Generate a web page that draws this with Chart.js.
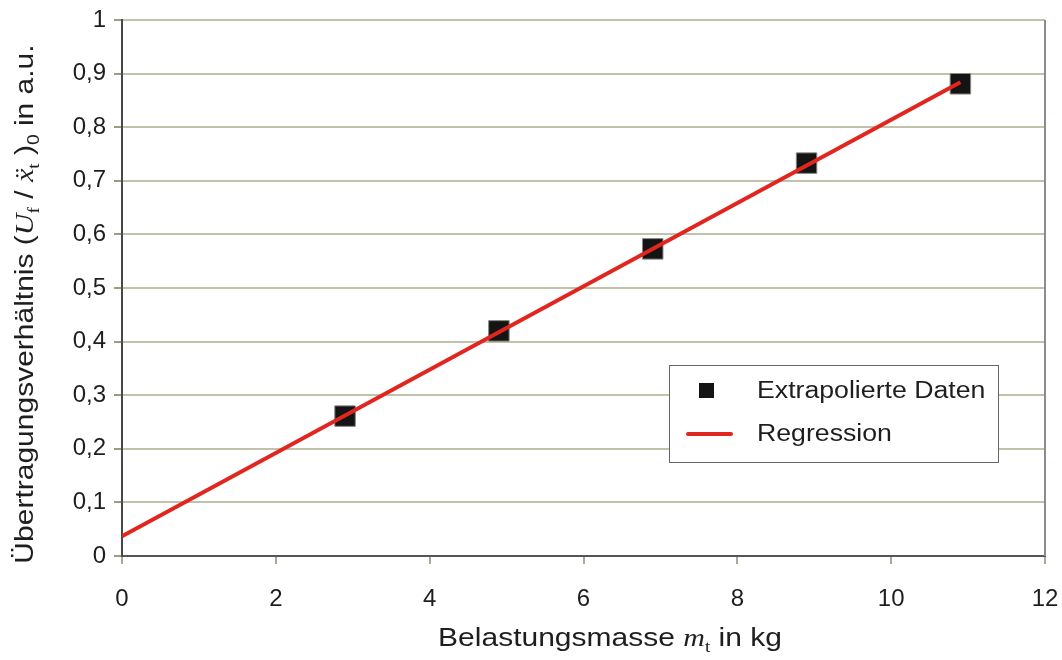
<!DOCTYPE html>
<html>
<head>
<meta charset="utf-8">
<script src="https://cdn.jsdelivr.net/npm/chart.js@4.4.0/dist/chart.umd.min.js"></script>
<style>
  html, body { margin: 0; padding: 0; background: #fff; }
  #wrap { width: 1062px; height: 660px; }
</style>
</head>
<body>
<div id="wrap"><canvas id="chart"></canvas></div>
<script>
// values
const massKg = [2.9, 4.9, 6.9, 8.9, 10.9];
const ratio = [0.261, 0.420, 0.573, 0.733, 0.881];
const regressionX = [0, 10.9];
const regressionY = [0.037, 0.884];
const xTickLabels = ['0', '2', '4', '6', '8', '10', '12'];
const yTickLabels = ['0', '0,1', '0,2', '0,3', '0,4', '0,5', '0,6', '0,7', '0,8', '0,9', '1'];
const seriesLabels = ['Extrapolierte Daten', 'Regression'];

const SANS = '"Liberation Sans", Arial, sans-serif';
const SERIF = '"Liberation Serif", "Times New Roman", serif';

// title pieces: plain, italic serif symbols, subscripts
const yTitle = [
  { t: 'Übertragungsverhältnis (' },
  { t: 'U', it: true, serif: true },
  { t: 'f', sub: true, serif: true },
  { t: ' / ' },
  { t: 'ẍ', it: true, serif: true },
  { t: 't', sub: true, serif: true },
  { t: ' )' },
  { t: '0', sub: true },
  { t: ' in a.u.' }
];
const xTitle = [
  { t: 'Belastungsmasse ' },
  { t: 'm', it: true, serif: true },
  { t: 't', sub: true, serif: true },
  { t: ' in kg' }
];

function drawRich(ctx, parts, size, stretch) {
  const items = parts.map(p => {
    const fs = p.sub ? Math.round(size * 0.62) : size;
    const font = (p.it ? 'italic ' : '') + fs + 'px ' + (p.serif ? SERIF : SANS);
    ctx.font = font;
    return { t: p.t, font: font, w: ctx.measureText(p.t).width, dy: p.sub ? size * 0.22 : 0 };
  });
  const total = items.reduce((s, it) => s + it.w, 0);
  ctx.scale(stretch, 1);
  let x = -total / 2;
  ctx.fillStyle = '#1e1e1e';
  ctx.textBaseline = 'alphabetic';
  ctx.textAlign = 'left';
  items.forEach(it => {
    ctx.font = it.font;
    ctx.fillText(it.t, x, it.dy);
    x += it.w;
  });
}

const frameAndTitles = {
  id: 'frameAndTitles',
  beforeDatasetsDraw(chart) {
    const { ctx, chartArea } = chart;
    ctx.save();
    ctx.strokeStyle = '#8c8c8c';
    ctx.lineWidth = 2;
    ctx.beginPath();
    ctx.moveTo(chartArea.right, chartArea.top);
    ctx.lineTo(chartArea.right, chartArea.bottom);
    ctx.stroke();
    ctx.restore();
  },
  afterDraw(chart) {
    const { ctx } = chart;
    // axis titles
    ctx.save();
    ctx.translate(33, 304);
    ctx.rotate(-Math.PI / 2);
    drawRich(ctx, yTitle, 25, 1.2);
    ctx.restore();

    ctx.save();
    ctx.translate(610, 646);
    drawRich(ctx, xTitle, 25, 1.2);
    ctx.restore();

    // legend box
    const ds = chart.data.datasets;
    ctx.save();
    ctx.fillStyle = '#fff';
    ctx.strokeStyle = '#666';
    ctx.lineWidth = 1;
    ctx.fillRect(669, 365, 329, 97);
    ctx.strokeRect(669.5, 365.5, 329, 97);

    ctx.fillStyle = ds[0].backgroundColor;
    ctx.fillRect(699, 383, 15, 15);

    ctx.strokeStyle = ds[1].borderColor;
    ctx.lineWidth = 4;
    ctx.lineCap = 'round';
    ctx.beginPath();
    ctx.moveTo(688, 434);
    ctx.lineTo(731, 434);
    ctx.stroke();

    ctx.fillStyle = '#1e1e1e';
    ctx.font = '23px ' + SANS;
    ctx.textBaseline = 'alphabetic';
    ctx.save();
    ctx.translate(757, 398);
    ctx.scale(1.16, 1);
    ctx.fillText(ds[0].label, 0, 0);
    ctx.restore();
    ctx.save();
    ctx.translate(757, 441);
    ctx.scale(1.16, 1);
    ctx.fillText(ds[1].label, 0, 0);
    ctx.restore();
    ctx.restore();
  }
};

document.addEventListener('DOMContentLoaded', function () {
  const ctx = document.getElementById('chart').getContext('2d');

  new Chart(ctx, {
    type: 'scatter',
    data: {
      datasets: [
        {
          label: seriesLabels[0],
          data: massKg.map((x, i) => ({ x: x, y: ratio[i] })),
          pointStyle: 'rect',
          pointRadius: 14.5,
          pointHoverRadius: 14.5,
          backgroundColor: '#141414',
          borderColor: '#8a8a80',
          borderWidth: 1,
          order: 2
        },
        {
          label: seriesLabels[1],
          data: regressionX.map((x, i) => ({ x: x, y: regressionY[i] })),
          showLine: true,
          borderColor: '#e0261f',
          backgroundColor: '#e0261f',
          borderWidth: 4,
          pointRadius: 0,
          order: 1
        }
      ]
    },
    options: {
      animation: false,
      responsive: true,
      maintainAspectRatio: false,
      layout: {
        padding: { left: 0, right: 17, top: 20, bottom: 0 }
      },
      plugins: {
        legend: { display: false },
        tooltip: { enabled: false }
      },
      scales: {
        x: {
          type: 'linear',
          min: 0,
          max: 12,
          afterFit: (scale) => {
            scale.height = 104;
            scale.paddingLeft = 0;
            scale.paddingRight = 0;
          },
          ticks: {
            stepSize: 2,
            padding: 21,
            color: '#1e1e1e',
            font: { family: SANS, size: 24 },
            callback: (v, i) => xTickLabels[i]
          },
          grid: {
            drawOnChartArea: false,
            tickLength: 8,
            lineWidth: 2,
            color: '#a9a994'
          },
          border: { color: '#555', width: 2 }
        },
        y: {
          min: 0,
          max: 1,
          afterFit: (scale) => {
            scale.width = 122;
            scale.paddingTop = 0;
            scale.paddingBottom = 0;
          },
          ticks: {
            stepSize: 0.1,
            padding: 8,
            color: '#1e1e1e',
            font: { family: SANS, size: 24 },
            callback: (v, i) => yTickLabels[i]
          },
          grid: {
            color: '#c2c2aa',
            tickColor: '#9c9c86',
            lineWidth: 2,
            tickLength: 8
          },
          border: { color: '#484848', width: 2 }
        }
      }
    },
    plugins: [frameAndTitles]
  });
});
</script>
</body>
</html>
